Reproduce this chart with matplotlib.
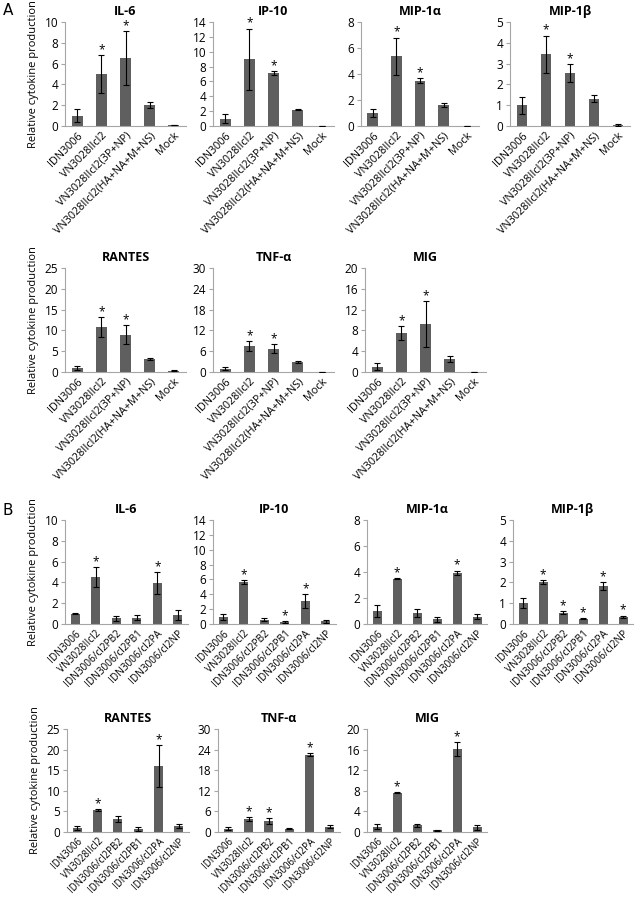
import numpy as np
import matplotlib.pyplot as plt

plt.rcParams['font.family'] = ['Open Sans', 'DejaVu Sans']

labels_a = ['IDN3006', 'VN3028IIcl2', 'VN3028IIcl2(3P+NP)', 'VN3028IIcl2(HA+NA+M+NS)', 'Mock']
labels_b = ['IDN3006', 'VN3028IIcl2', 'IDN3006/cl2PB2', 'IDN3006/cl2PB1', 'IDN3006/cl2PA', 'IDN3006/cl2NP']

# panel A
a_il6 = [1.0, 5.0, 6.5, 2.05, 0.1]
a_il6_err = [0.6, 1.85, 2.6, 0.3, 0.03]
a_il6_star = [1, 2]
a_ip10 = [1.0, 9.0, 7.1, 2.2, 0.05]
a_ip10_err = [0.65, 4.1, 0.3, 0.05, 0.0]
a_ip10_star = [1, 2]
a_mip1a = [1.0, 5.35, 3.5, 1.6, 0.03]
a_mip1a_err = [0.3, 1.45, 0.2, 0.15, 0.0]
a_mip1a_star = [1, 2]
a_mip1b = [1.0, 3.45, 2.55, 1.32, 0.05]
a_mip1b_err = [0.4, 0.9, 0.42, 0.18, 0.05]
a_mip1b_star = [1, 2]
a_rantes = [1.0, 10.8, 9.0, 3.2, 0.3]
a_rantes_err = [0.5, 2.4, 2.2, 0.2, 0.1]
a_rantes_star = [1, 2]
a_tnf = [1.0, 7.5, 6.7, 2.8, 0.1]
a_tnf_err = [0.3, 1.4, 1.3, 0.3, 0.0]
a_tnf_star = [1, 2]
a_mig = [1.0, 7.5, 9.2, 2.5, 0.05]
a_mig_err = [0.7, 1.3, 4.4, 0.5, 0.0]
a_mig_star = [1, 2]

# panel B
b_il6 = [1.0, 4.55, 0.55, 0.6, 3.95, 0.85]
b_il6_err = [0.05, 0.95, 0.25, 0.25, 1.05, 0.5]
b_il6_star = [1, 4]
b_ip10 = [1.0, 5.65, 0.6, 0.25, 3.1, 0.4]
b_ip10_err = [0.4, 0.3, 0.2, 0.1, 0.95, 0.2]
b_ip10_star = [1, 3, 4]
b_mip1a = [1.0, 3.5, 0.85, 0.35, 3.95, 0.55]
b_mip1a_err = [0.45, 0.05, 0.3, 0.2, 0.15, 0.2]
b_mip1a_star = [1, 4]
b_mip1b = [1.0, 2.02, 0.55, 0.25, 1.82, 0.35]
b_mip1b_err = [0.25, 0.1, 0.08, 0.03, 0.2, 0.05]
b_mip1b_star = [1, 2, 3, 4, 5]
b_rantes = [1.0, 5.3, 3.1, 0.7, 16.0, 1.5]
b_rantes_err = [0.5, 0.3, 0.7, 0.4, 5.1, 0.5]
b_rantes_star = [1, 4]
b_tnf = [1.0, 3.8, 3.2, 1.0, 22.5, 1.6]
b_tnf_err = [0.5, 0.6, 0.9, 0.1, 0.4, 0.5]
b_tnf_star = [1, 2, 4]
b_mig = [1.0, 7.6, 1.3, 0.3, 16.1, 0.9]
b_mig_err = [0.5, 0.1, 0.3, 0.05, 1.4, 0.5]
b_mig_star = [1, 4]

W, H = 637, 900
fig = plt.figure(figsize=(W / 100, H / 100), dpi=100)

GRAY = '#a6a6a6'
BAR = '#5f5f5f'


def panel(left, top, bottom, width, title, labels, vals, errs, stars, ymax, ystep,
          ylabel=False, lab_size=7.8):
    ax = fig.add_axes([left / W, 1 - bottom / H, width / W, (bottom - top) / H])
    x = np.arange(len(vals))
    ax.bar(x, vals, width=0.45, color=BAR, zorder=2)
    ax.errorbar(x, vals, yerr=errs, fmt='none', ecolor='black', elinewidth=0.8,
                capsize=2.5, capthick=0.8, zorder=3)
    for i in stars:
        ax.text(x[i], vals[i] + errs[i] - ymax * 0.01, '*', ha='center', va='bottom',
                fontsize=8.5)
    ax.set_xlim(-0.5, len(vals) - 0.5)
    ax.set_ylim(0, ymax)
    ax.set_yticks(np.arange(0, ymax + ystep / 2, ystep))
    ax.set_xticks(x)
    ax.set_xticklabels(labels, rotation=45, ha='right', rotation_mode='anchor', fontsize=lab_size)
    ax.tick_params(axis='x', length=0, pad=3)
    ax.tick_params(axis='y', length=3, color=GRAY, labelsize=8.5, pad=2)
    for s in ['top', 'right']:
        ax.spines[s].set_visible(False)
    for s in ['left', 'bottom']:
        ax.spines[s].set_color(GRAY)
        ax.spines[s].set_linewidth(0.8)
    ax.set_title(title, fontsize=9, fontweight='bold', pad=5)
    if ylabel:
        ax.set_ylabel('Relative cytokine production', fontsize=8, labelpad=4)
    return ax


# row A1
panel(65, 22, 126, 121, 'IL-6', labels_a, a_il6, a_il6_err, a_il6_star, 10, 2, True)
panel(213, 22, 126, 121, 'IP-10', labels_a, a_ip10, a_ip10_err, a_ip10_star, 14, 2)
panel(361, 22, 126, 118, 'MIP-1α', labels_a, a_mip1a, a_mip1a_err, a_mip1a_star, 8, 2)
panel(510, 22, 126, 120, 'MIP-1β', labels_a, a_mip1b, a_mip1b_err, a_mip1b_star, 5, 1)
# row A2
panel(65, 268, 372, 121, 'RANTES', labels_a, a_rantes, a_rantes_err, a_rantes_star, 25, 5, True)
panel(213, 268, 372, 121, 'TNF-α', labels_a, a_tnf, a_tnf_err, a_tnf_star, 30, 6)
panel(365, 268, 372, 121, 'MIG', labels_a, a_mig, a_mig_err, a_mig_star, 20, 4)
# row B1
panel(65, 520, 624, 123, 'IL-6', labels_b, b_il6, b_il6_err, b_il6_star, 10, 2, True, 7.2)
panel(213, 520, 624, 123, 'IP-10', labels_b, b_ip10, b_ip10_err, b_ip10_star, 14, 2, False, 7.2)
panel(367, 520, 624, 120, 'MIP-1α', labels_b, b_mip1a, b_mip1a_err, b_mip1a_star, 8, 2, False, 7.2)
panel(513, 520, 624, 120, 'MIP-1β', labels_b, b_mip1b, b_mip1b_err, b_mip1b_star, 5, 1, False, 7.2)
# row B2
panel(67, 729, 832, 122, 'RANTES', labels_b, b_rantes, b_rantes_err, b_rantes_star, 25, 5, True, 6.9)
panel(218, 729, 832, 122, 'TNF-α', labels_b, b_tnf, b_tnf_err, b_tnf_star, 30, 6, False, 6.9)
panel(367, 729, 832, 120, 'MIG', labels_b, b_mig, b_mig_err, b_mig_star, 20, 4, False, 6.9)

fig.text(3 / W, 1 - 3 / H, 'A', fontsize=11, va='top', ha='left', family='DejaVu Sans')
fig.text(3 / W, 1 - 503 / H, 'B', fontsize=11, va='top', ha='left', family='DejaVu Sans')

fig.savefig('out.png', dpi=100)
